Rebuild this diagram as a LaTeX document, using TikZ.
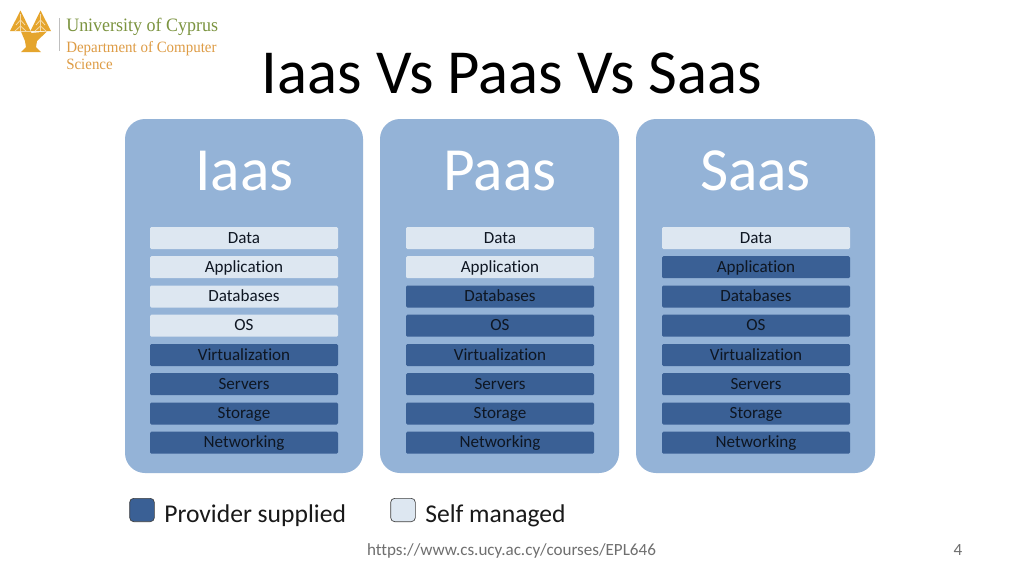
\documentclass[tikz,border=0pt]{standalone}
\usepackage{fontspec}
\setmainfont[Ligatures=NoCommon]{Carlito}
\newfontfamily\logofont[FakeStretch=0.95]{Liberation Serif}
\definecolor{panelblue}{HTML}{94B3D7}
\definecolor{darkbar}{HTML}{3A6095}
\definecolor{lightbar}{HTML}{DDE7F1}
\definecolor{txtdark}{HTML}{0E1622}
\definecolor{logogold}{HTML}{E5A52D}
\definecolor{logogreen}{HTML}{7C9440}
\definecolor{logoorange}{HTML}{DE9C45}
\definecolor{footgray}{HTML}{6F6F6F}
\tikzset{
  panel/.style={fill=panelblue,rounded corners=15pt},
  paneltitle/.style={font=\fontsize{46}{50}\selectfont,text=white,anchor=base,inner sep=0pt},
  barbase/.style={minimum width=141pt,minimum height=16.5pt,inner sep=0pt,rounded corners=1pt,font=\fontsize{12.8}{14}\selectfont,text=txtdark,text height=9.75pt,text depth=2.25pt,anchor=center},
  selfbar/.style={barbase,fill=lightbar},
  provbar/.style={barbase,fill=darkbar},
  legendbox/.style={minimum width=18.5pt,minimum height=17.5pt,inner sep=0pt,rounded corners=3pt,draw=black!75,line width=0.5pt,anchor=center},
  legendtext/.style={font=\fontsize{19.2}{22}\selectfont,text=black!90,anchor=base west,inner sep=0pt},
  logotext/.style={anchor=base west,inner sep=0pt},
}
\begin{document}
\begin{tikzpicture}[x=0.75pt,y=-0.75pt]
\useasboundingbox (0,0) rectangle (1024,576);
\fill[white] (0,0) rectangle (1024,576);
% logo
\fill[logogold] (20.5,10.5) -- (30.5,31) -- (10,31) -- cycle;
\fill[logogold] (40.5,10.5) -- (51,31) -- (30.5,31) -- cycle;
\fill[logogold] (21,31.5) -- (31,31.5) -- (31,33) -- (47,31.5) -- (37,41) -- (36,47) -- (41,52) -- (21,52) -- (26,47) -- (25,41) -- cycle;
\draw[white!60!logogold,line width=0.6pt] (20.5,14) -- (20.5,31) (40.5,14) -- (40.5,31) (20.5,20) -- (16,25) (20.5,20) -- (25,25) (40.5,20) -- (36,25) (40.5,20) -- (45,25) (20.5,26) -- (15,31) (20.5,26) -- (26,31) (40.5,26) -- (35,31) (40.5,26) -- (46,31);
\fill[black!25] (58.5,18) rectangle (59.2,51);
\node[font=\logofont\fontsize{14.2}{16}\selectfont,text=logogreen,logotext] (logoA) at (66,31) {University of Cyprus};
\node[font=\logofont\fontsize{11.8}{14}\selectfont,text=logoorange,logotext] (logoB) at (66,52) {Department of Computer};
\node[font=\logofont\fontsize{11.8}{14}\selectfont,text=logoorange,logotext] (logoC) at (66,69) {Science};
% title
\node[font=\fontsize{47}{50}\selectfont,text=black,anchor=base,inner sep=0pt] (title) at (512,93) {Iaas Vs Paas Vs Saas};
% panels
\fill[panel] (125,119) rectangle (363,473);
\fill[panel] (380,119) rectangle (619,473);
\fill[panel] (636,119) rectangle (875,473);
\node[paneltitle] (t1) at (244.5,190) {Iaas};
\node[paneltitle] (t2) at (500,190) {Paas};
\node[paneltitle] (t3) at (755.5,190) {Saas};
% column 1
\node[selfbar] (a1) at (244,238) {Data};
\node[selfbar] (a2) at (244,267.2) {Application};
\node[selfbar] (a3) at (244,296.5) {Databases};
\node[selfbar] (a4) at (244,325.7) {OS};
\node[provbar] (a5) at (244,355) {Virtualization};
\node[provbar] (a6) at (244,384.2) {Servers};
\node[provbar] (a7) at (244,413.5) {Storage};
\node[provbar] (a8) at (244,442.7) {Networking};
% column 2
\node[selfbar] (b1) at (500,238) {Data};
\node[selfbar] (b2) at (500,267.2) {Application};
\node[provbar] (b3) at (500,296.5) {Databases};
\node[provbar] (b4) at (500,325.7) {OS};
\node[provbar] (b5) at (500,355) {Virtualization};
\node[provbar] (b6) at (500,384.2) {Servers};
\node[provbar] (b7) at (500,413.5) {Storage};
\node[provbar] (b8) at (500,442.7) {Networking};
% column 3
\node[selfbar] (c1) at (756,238) {Data};
\node[provbar] (c2) at (756,267.2) {Application};
\node[provbar] (c3) at (756,296.5) {Databases};
\node[provbar] (c4) at (756,325.7) {OS};
\node[provbar] (c5) at (756,355) {Virtualization};
\node[provbar] (c6) at (756,384.2) {Servers};
\node[provbar] (c7) at (756,413.5) {Storage};
\node[provbar] (c8) at (756,442.7) {Networking};
% legend
\node[legendbox,fill=darkbar] (l1) at (142,510) {};
\node[legendtext] (l1t) at (164,522) {Provider supplied};
\node[legendbox,fill=lightbar] (l2) at (403,510) {};
\node[legendtext] (l2t) at (425,522) {Self managed};
% footer
\node[font=\fontsize{12.8}{14}\selectfont,text=footgray,anchor=base,inner sep=0pt] (url) at (511.5,555) {https://www.cs.ucy.ac.cy/courses/EPL646};
\node[font=\fontsize{12.8}{14}\selectfont,text=footgray,anchor=base,inner sep=0pt] (num) at (958,555) {4};
\end{tikzpicture}
\end{document}
